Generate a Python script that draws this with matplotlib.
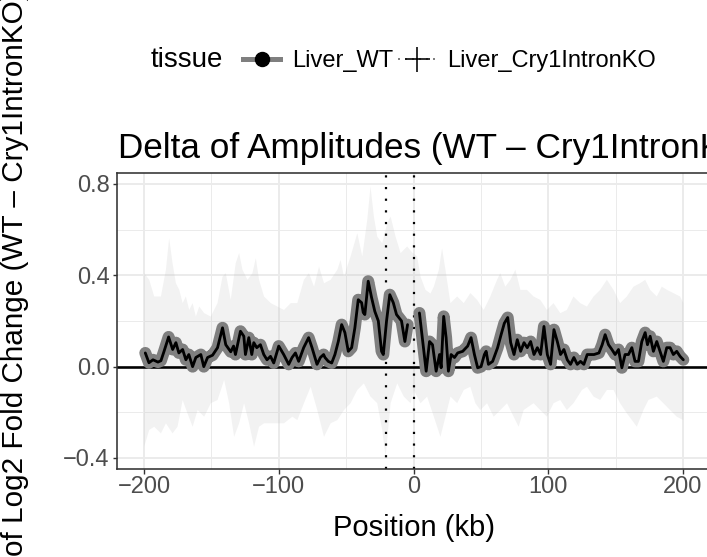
import numpy as np
import matplotlib
matplotlib.use("Agg")
import matplotlib.pyplot as plt
from matplotlib.lines import Line2D
from matplotlib.ticker import FixedLocator

plt.rcParams['font.family'] = ['Liberation Sans', 'DejaVu Sans']

# ---------------- data ----------------
pos_kb = [-199.0, -196.3, -193.3, -189.6, -187.4, -185.2, -181.7, -178.7, -176.3, -174.1,
          -171.3, -168.9, -166.7, -163.9, -161.5, -157.8, -155.6, -152.8, -149.1, -145.4,
          -141.7, -139.3, -135.6, -133.5, -132.1, -128.4, -125.9, -124.7, -122.2, -120.0,
          -118.5, -116.3, -113.6, -111.1, -108.7, -106.1, -103.7, -100.0, -96.3, -92.6,
          -90.1, -87.6, -85.2, -81.5, -77.8, -75.3, -71.6, -69.1, -66.7, -65.7,
          -63.2, -60.7, -58.3, -55.8, -53.3, -50.9, -48.4, -45.9, -43.5, -41.0,
          -38.5, -37.3, -36.1, -33.6, -31.1, -28.7, -26.1, -23.7, -22.4, -20.0,
          -17.6, -15.0, -12.6, -8.9, -6.4, -4.4, np.nan,
          4.4, 9.4, 11.9, 14.1, 16.8, 19.3, 20.5, 22.4, 24.2, 25.9,
          27.9, 30.4, 32.8, 36.5, 40.2, 42.7, 45.2, 47.6, 50.1, 52.6,
          53.9, 55.6, 58.7, 62.4, 65.0, 67.4, 69.9, 72.1, 74.6, 77.0,
          79.5, 82.0, 84.4, 86.9, 89.4, 91.9, 94.3, 96.8, 99.3, 101.7,
          104.2, 106.7, 109.1, 111.6, 114.1, 116.5, 119.0, 121.5, 123.9, 126.4,
          128.9, 133.9, 137.6, 140.0, 142.2, 144.7, 147.2, 149.6, 152.1, 154.6,
          157.0, 159.5, 162.0, 164.4, 166.9, 169.4, 171.9, 173.6, 175.6, 178.0,
          180.5, 182.9, 185.4, 187.9, 190.4, 192.8, 195.3, 197.8, 200.2]
delta_wt = [0.06, 0.017, 0.03, 0.02, 0.026, 0.065, 0.13, 0.075, 0.105, 0.06,
            0.075, 0.03, 0.053, 0.0, 0.04, 0.053, 0.0, 0.04, 0.05, 0.083,
            0.17, 0.096, 0.065, 0.09, 0.053, 0.155, 0.133, 0.053, 0.127, 0.053,
            0.105, 0.083, 0.096, 0.053, 0.03, 0.045, 0.016, 0.09, 0.053, 0.01,
            0.04, 0.06, 0.023, 0.083, 0.127, 0.083, 0.01, 0.04, 0.053, 0.04,
            0.023, 0.016, 0.053, 0.11, 0.184, 0.149, 0.067, 0.083, 0.17, 0.293,
            0.28, 0.237, 0.228, 0.374, 0.302, 0.242, 0.2, 0.067, 0.053, 0.2,
            0.315, 0.28, 0.228, 0.2, 0.11, 0.184, np.nan,
            0.235, -0.02, 0.11, 0.096, -0.02, 0.053, -0.005, 0.22, 0.127, -0.02,
            0.053, 0.04, 0.06, 0.067, 0.09, 0.127, 0.053, -0.005, 0.0, 0.053,
            0.067, 0.01, 0.023, 0.083, 0.14, 0.19, 0.215, 0.105, 0.053, 0.118,
            0.067, 0.105, 0.083, 0.11, 0.053, 0.083, 0.053, 0.176, 0.053, 0.01,
            0.162, 0.11, 0.053, 0.075, 0.03, 0.01, 0.04, 0.01, 0.023, 0.01,
            0.053, 0.053, 0.06, 0.096, 0.14, 0.096, 0.075, 0.053, 0.075, -0.005,
            0.053, 0.053, 0.083, 0.023, 0.023, 0.11, 0.149, 0.096, 0.133, 0.067,
            0.11, 0.067, 0.023, 0.083, 0.083, 0.053, 0.067, 0.045, 0.03]

ribbon_upper_x = [-199.8, -196.1, -192.4, -187.4, -183.7, -181.3, -178.8, -176.3, -173.8, -171.3,
                  -168.9, -166.4, -163.9, -161.5, -159.0, -155.3, -150.4, -145.4, -141.7, -139.3,
                  -135.6, -131.9, -129.4, -126.9, -123.2, -119.5, -117.0, -114.6, -110.9, -105.9,
                  -101.0, -96.1, -91.1, -86.2, -81.3, -77.6, -73.8, -70.1, -66.4, -61.5,
                  -56.5, -54.1, -51.6, -46.7, -41.7, -38.0, -34.3, -31.9, -29.4, -26.9,
                  -23.2, -19.5, -17.0, -13.3, -9.6, -4.7, -1.0, 2.7, 5.2, 8.9,
                  12.6, 15.1, 18.8, 21.2, 23.7, 27.4, 32.4, 37.3, 42.2, 47.2,
                  52.1, 57.0, 62.0, 64.4, 68.1, 71.9, 75.6, 79.3, 84.2, 89.1,
                  94.1, 99.0, 103.9, 108.9, 113.8, 118.7, 123.7, 128.7, 133.6, 138.5,
                  143.5, 148.4, 153.3, 158.3, 163.2, 168.1, 171.9, 175.6, 180.5, 184.2,
                  188.1, 192.8, 197.8, 200.2]
ribbon_upper = [0.409, 0.38, 0.307, 0.307, 0.424, 0.562, 0.453, 0.365, 0.336, 0.278,
                0.307, 0.248, 0.278, 0.219, 0.263, 0.234, 0.219, 0.278, 0.394, 0.409,
                0.292, 0.453, 0.497, 0.424, 0.38, 0.409, 0.475, 0.38, 0.307, 0.278,
                0.263, 0.248, 0.278, 0.278, 0.38, 0.409, 0.35, 0.438, 0.365, 0.38,
                0.424, 0.467, 0.394, 0.482, 0.584, 0.482, 0.643, 0.788, 0.657, 0.569,
                0.54, 0.628, 0.657, 0.569, 0.497, 0.526, 0.5, 0.482, 0.394, 0.336,
                0.32, 0.35, 0.424, 0.518, 0.424, 0.278, 0.307, 0.278, 0.322, 0.292,
                0.248, 0.307, 0.38, 0.409, 0.35, 0.38, 0.424, 0.336, 0.336, 0.307,
                0.292, 0.248, 0.278, 0.234, 0.248, 0.307, 0.278, 0.263, 0.307, 0.336,
                0.38, 0.336, 0.278, 0.307, 0.35, 0.365, 0.38, 0.336, 0.307, 0.35,
                0.336, 0.322, 0.307, 0.278]
ribbon_lower_x = [-199.8, -196.1, -192.4, -187.4, -183.7, -178.8, -175.1, -171.3, -167.7, -163.9,
                  -160.2, -155.3, -150.4, -145.4, -140.5, -136.8, -133.1, -129.4, -125.7, -122.0,
                  -118.3, -114.6, -110.9, -103.5, -96.1, -89.9, -86.2, -81.3, -76.3, -71.4,
                  -66.4, -61.5, -56.5, -51.6, -46.7, -41.7, -36.8, -31.9, -26.9, -23.2,
                  -20.7, -17.0, -12.1, -7.2, -2.2, 0.2, 5.2, 10.1, 15.1, 20.0,
                  23.7, 27.4, 32.4, 37.3, 42.2, 45.9, 49.6, 54.6, 59.5, 64.4,
                  69.4, 74.3, 78.0, 81.7, 89.1, 94.1, 99.0, 103.9, 108.9, 113.8,
                  118.7, 125.0, 128.7, 133.6, 138.5, 143.5, 148.4, 153.3, 158.3, 165.7,
                  170.6, 174.3, 180.5, 185.4, 190.4, 195.3, 200.2]
ribbon_lower = [-0.35, -0.277, -0.263, -0.292, -0.248, -0.292, -0.263, -0.146, -0.204, -0.263,
                -0.19, -0.219, -0.16, -0.146, -0.058, -0.16, -0.307, -0.248, -0.16, -0.248,
                -0.35, -0.263, -0.248, -0.248, -0.248, -0.219, -0.234, -0.16, -0.088, -0.19,
                -0.307, -0.248, -0.234, -0.19, -0.16, -0.102, -0.073, -0.131, -0.16, -0.277,
                -0.394, -0.16, -0.073, -0.131, -0.16, -0.102, -0.16, -0.131, -0.219, -0.307,
                -0.219, -0.131, -0.16, -0.102, -0.088, -0.16, -0.19, -0.16, -0.219, -0.19,
                -0.16, -0.219, -0.263, -0.19, -0.16, -0.19, -0.219, -0.16, -0.146, -0.19,
                -0.16, -0.102, -0.088, -0.131, -0.146, -0.102, -0.102, -0.16, -0.204, -0.263,
                -0.19, -0.146, -0.131, -0.16, -0.19, -0.219, -0.234]

vlines_kb = [-20.5, 0]
x_ticks = [-200, -100, 0, 100, 200]
y_ticks = [-0.4, 0.0, 0.4, 0.8]
legend_labels = ["Liver_WT", "Liver_Cry1IntronKO"]

# ---------------- figure ----------------
W, H = 707, 557
DPI = 100
fig = plt.figure(figsize=(W / DPI, H / DPI), dpi=DPI)

def px(v):  # pixels -> points
    return v * 72.0 / DPI

L, R, T, B = 117, 710, 172.5, 468.5
ax = fig.add_axes([L / W, (H - B) / H, (R - L) / W, (B - T) / H])
ax.set_xlim(-220, 220)
ax.set_ylim(-0.446, 0.850)
ax.set_facecolor('white')

ax.xaxis.set_major_locator(FixedLocator(x_ticks))
ax.yaxis.set_major_locator(FixedLocator(y_ticks))
ax.xaxis.set_minor_locator(FixedLocator([-150, -50, 50, 150]))
ax.yaxis.set_minor_locator(FixedLocator([-0.2, 0.2, 0.6]))
ax.set_xticklabels([str(v).replace('-', '\u2212') for v in x_ticks])
ax.set_yticklabels([('%.1f' % v).replace('-', '\u2212') for v in y_ticks])
ax.grid(which='major', color='#EBEBEB', linewidth=px(2.0), zorder=0)
ax.grid(which='minor', color='#EBEBEB', linewidth=px(1.0), zorder=0)
ax.set_axisbelow(True)
for s in ax.spines.values():
    s.set_color('#333333')
    s.set_linewidth(px(1.6))
ax.tick_params(which='major', direction='out', length=px(4.5), width=px(1.4), color='#333333',
               labelcolor='#4D4D4D', labelsize=17, pad=2.0)
ax.tick_params(which='minor', length=0)

# ribbon
rx = np.concatenate([ribbon_upper_x, ribbon_lower_x[::-1]])
ry = np.concatenate([ribbon_upper, ribbon_lower[::-1]])
ax.fill(rx, ry, facecolor='#BEBEBE', alpha=0.2, edgecolor='none', zorder=1)

ax.axhline(0, color='black', linewidth=px(2.6), zorder=2)
for v in vlines_kb:
    ax.axvline(v, color='black', linewidth=px(2.2), linestyle=(0, (1, 4.3)),
               dash_capstyle='butt', zorder=2)

ax.plot(pos_kb, delta_wt, color='#7F7F7F', linewidth=px(12), solid_capstyle='round',
        solid_joinstyle='round', zorder=3)
ax.plot(pos_kb, delta_wt, color='black', linewidth=px(2.8), solid_capstyle='round',
        solid_joinstyle='round', zorder=4)

# texts
fig.text(413.5 / W, 1 - 536 / H, "Position (kb)", ha='center', va='baseline', fontsize=21)
fig.text(118 / W, 1 - 158 / H, "Delta of Amplitudes (WT \u2013 Cry1IntronKO)", ha='left',
         va='baseline', fontsize=25.3)

YL_FS = 21.4
ylabel = "Difference of Log2 Fold Change (WT \u2013 Cry1IntronKO)"
renderer = fig.canvas.get_renderer()
t1 = fig.text(0, 0, "Difference of", fontsize=YL_FS)
t2 = fig.text(0, 0, "of", fontsize=YL_FS)
off = t1.get_window_extent(renderer).width - t2.get_window_extent(renderer).width
t1.remove(); t2.remove()
fig.text(23 / W, (0 - off + 1) / H, ylabel, rotation=90, rotation_mode='anchor',
         ha='left', va='baseline', fontsize=YL_FS)

# legend
fig.text(151 / W, 1 - 67 / H, "tissue", ha='left', va='baseline', fontsize=20)
h1 = Line2D([], [], color='#7F7F7F', linewidth=px(5), marker='o', markersize=px(14),
            markerfacecolor='black', markeredgecolor='black')
h2 = Line2D([], [], color='#7F7F7F', linewidth=px(2), linestyle=(0, (1, 2.5)), marker='+',
            markersize=px(25), markeredgecolor='black', markeredgewidth=px(1.6))
leg = fig.legend([h1, h2], legend_labels, ncol=2, frameon=False, fontsize=17,
                 loc='center left', bbox_to_anchor=(243 / W, 1 - 61 / H),
                 handlelength=1.57, handletextpad=0.5, columnspacing=0.22, borderpad=0,
                 borderaxespad=0)

fig.savefig("out.png", dpi=DPI)
